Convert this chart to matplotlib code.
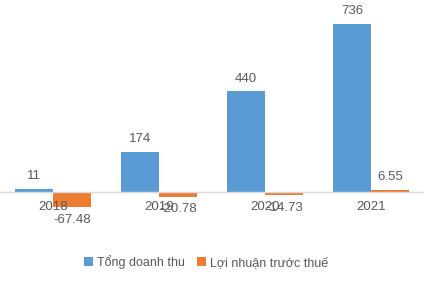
import numpy as np
import matplotlib.pyplot as plt

years = ['2018', '2019', '2020', '2021']
revenue = [11, 174, 440, 736]
profit = [-67.48, -20.78, -14.73, 6.55]
rev_labels = ['11', '174', '440', '736']
profit_labels = ['-67.48', '-20.78', '-14.73', '6.55']

plt.rcParams['font.family'] = ['Liberation Sans', 'DejaVu Sans']
txt = '#595959'

fig = plt.figure(figsize=(4.29, 2.82), dpi=100)
ax = fig.add_axes([0, 1 - 226 / 282, 424 / 429, (226 - 9.4) / 282])

x = np.arange(len(years))
w = 0.36
ax.bar(x - w / 2, revenue, w, color='#5B9BD5', label='Tổng doanh thu')
ax.bar(x + w / 2, profit, w, color='#ED7D31', label='Lợi nhuận trước thuế')

ax.set_xlim(-0.5, 3.5)
ax.set_ylim(-150, 800)
ax.axhline(0, color='#D9D9D9', lw=1)

for i in range(len(years)):
    ax.annotate(rev_labels[i], (x[i] - w / 2, revenue[i]), xytext=(0, 5),
                textcoords='offset points', ha='center', va='bottom', color=txt, fontsize=9.5)
    if profit[i] < 0:
        ax.annotate(profit_labels[i], (x[i] + w / 2, profit[i]), xytext=(0, -5),
                    textcoords='offset points', ha='center', va='top', color=txt, fontsize=9.5)
    else:
        ax.annotate(profit_labels[i], (x[i] + w / 2, profit[i]), xytext=(0, 5),
                    textcoords='offset points', ha='center', va='bottom', color=txt, fontsize=9.5)
    # category labels sit just under the zero line, as in the original
    ax.text(x[i], -66, years[i], ha='center', va='center', color=txt, fontsize=9.5)

ax.set_xticks([])
ax.set_yticks([])
for s in ax.spines.values():
    s.set_visible(False)

fig.legend(loc='center', bbox_to_anchor=(0.48, 1 - 262 / 282), ncol=2, frameon=False,
           fontsize=9, labelcolor=txt, handlelength=0.7, handleheight=0.7,
           handletextpad=0.3, columnspacing=1.0)

fig.savefig('out.png', dpi=100)
